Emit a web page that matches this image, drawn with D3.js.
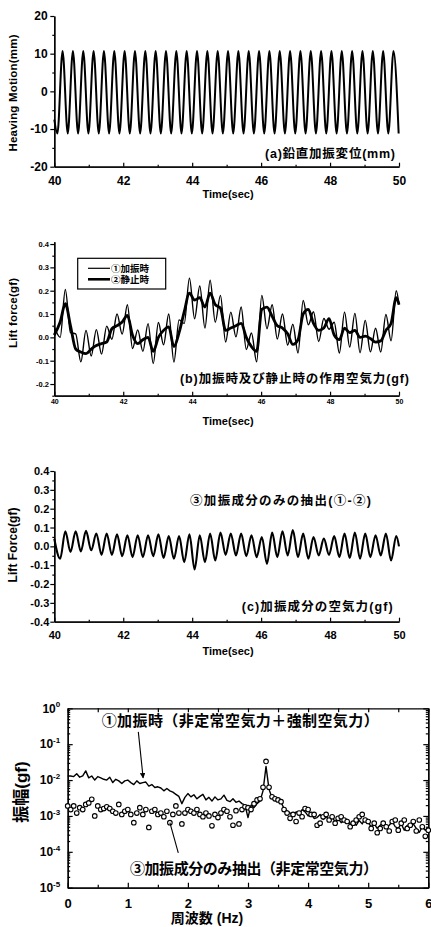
<!DOCTYPE html>
<html>
<head>
<meta charset="utf-8">
<script src="https://cdn.jsdelivr.net/npm/d3@7"></script>
<style>
  html, body { margin: 0; padding: 0; background: #fff; }
  svg { display: block; }
</style>
</head>
<body>
<svg id="fig" width="431" height="927"></svg>
<script>
// ── (a) heaving motion: half-cycle extremes
const tHeave = [
  40.00, 40.09, 40.24, 40.39, 40.54, 40.69, 40.84, 40.99, 41.14, 41.29,
  41.44, 41.59, 41.74, 41.89, 42.04, 42.19, 42.34, 42.49, 42.64, 42.79,
  42.94, 43.09, 43.24, 43.39, 43.54, 43.69, 43.84, 43.99, 44.14, 44.29,
  44.44, 44.59, 44.74, 44.89, 45.04, 45.19, 45.34, 45.49, 45.64, 45.79,
  45.94, 46.09, 46.24, 46.39, 46.54, 46.69, 46.84, 46.99, 47.14, 47.29,
  47.44, 47.59, 47.74, 47.89, 48.04, 48.19, 48.34, 48.49, 48.64, 48.79,
  48.94, 49.09, 49.24, 49.39, 49.54, 49.69, 49.84, 49.99
];
const heaveMm = [
  -7.5, -11.2, 10.7, -11.2, 10.7, -11.2, 10.7, -11.2, 10.7, -11.2,
  10.7, -11.2, 10.7, -11.2, 10.7, -11.2, 10.7, -11.2, 10.7, -11.2,
  10.7, -11.2, 10.7, -11.2, 10.7, -11.2, 10.7, -11.2, 10.7, -11.2,
  10.7, -11.2, 10.7, -11.2, 10.7, -11.2, 10.7, -11.2, 10.7, -11.2,
  10.7, -11.2, 10.7, -11.2, 10.7, -11.2, 10.7, -11.2, 10.7, -11.2,
  10.7, -11.2, 10.7, -11.2, 10.7, -11.2, 10.7, -11.2, 10.7, -11.2,
  10.7, -11.2, 10.7, -11.2, 10.7, -11.2, 10.7, -11.2
];

// ── (b)(c) lift force, read at the extremes of the forced component
const tLift = [
  40.00, 40.17, 40.32, 40.47, 40.62, 40.77, 40.92, 41.07, 41.22, 41.37,
  41.52, 41.67, 41.82, 41.97, 42.12, 42.27, 42.42, 42.57, 42.72, 42.87,
  43.02, 43.17, 43.32, 43.47, 43.62, 43.77, 43.92, 44.07, 44.22, 44.37,
  44.52, 44.67, 44.82, 44.97, 45.12, 45.27, 45.42, 45.57, 45.72, 45.87,
  46.02, 46.17, 46.32, 46.47, 46.62, 46.77, 46.92, 47.07, 47.22, 47.37,
  47.52, 47.67, 47.82, 47.97, 48.12, 48.27, 48.42, 48.57, 48.72, 48.87,
  49.02, 49.17, 49.32, 49.47, 49.62, 49.77, 49.92, 50.00
];
// ①加振時
const liftHeaving = [
  0.045, 0.0, 0.205, 0.02, 0.015, -0.105, 0.03, -0.08, 0.033, -0.072,
  0.048, -0.008, 0.1, 0.014, 0.14, -0.048, 0.032, -0.06, 0.059, -0.112,
  0.064, -0.032, 0.1, -0.106, 0.075, 0.06, 0.254, 0.08, 0.22, 0.04,
  0.245, 0.065, 0.18, -0.02, 0.108, 0.002, 0.13, -0.052, 0.019, -0.105,
  0.18, 0.037, 0.14, -0.007, 0.1, -0.033, 0.056, -0.067, 0.158, 0.054,
  0.11, -0.018, 0.081, 0.035, 0.065, -0.067, 0.108, -0.042, 0.103, -0.066,
  0.073, -0.062, 0.039, -0.063, 0.098, -0.015, 0.2, 0.14
];
// ②静止時
const liftStatic = [
  0.01, 0.066, 0.144, 0.05, -0.05, -0.063, -0.07, -0.05, -0.035, -0.027,
  -0.02, 0.037, 0.05, 0.066, 0.094, 0.009, -0.027, -0.01, 0.0, -0.06,
  0.0, 0.03, 0.045, -0.04, 0.02, 0.11, 0.19, 0.16, 0.17, 0.13,
  0.19, 0.14, 0.125, 0.03, 0.04, 0.05, 0.06, 0.0, -0.04, -0.06,
  0.12, 0.13, 0.09, 0.05, 0.04, 0.015, -0.03, -0.01, 0.1, 0.12,
  0.06, 0.03, 0.04, 0.08, 0.01, -0.01, 0.04, 0.02, 0.03, 0.0,
  0.005, -0.005, -0.02, -0.015, 0.03, 0.06, 0.17, 0.14
];
// ③加振成分 (①-②)
const liftForced = [
  0.04, -0.066, 0.08, -0.03, 0.08, -0.027, 0.082, -0.021, 0.068, -0.045,
  0.068, -0.045, 0.064, -0.052, 0.059, -0.057, 0.059, -0.057, 0.059, -0.052,
  0.064, -0.062, 0.055, -0.066, 0.055, -0.084, 0.064, -0.123, 0.059, -0.084,
  0.068, -0.075, 0.073, -0.045, 0.068, -0.048, 0.068, -0.052, 0.059, -0.057,
  0.05, -0.093, 0.073, -0.057, 0.08, -0.048, 0.086, -0.057, 0.068, -0.066,
  0.05, -0.048, 0.041, -0.045, 0.055, -0.057, 0.068, -0.062, 0.073, -0.066,
  0.068, -0.057, 0.059, -0.048, 0.068, -0.075, 0.055, 0.0
];

// ── (d) amplitude spectrum
const freqHz = [
  0, 0.05, 0.1, 0.15, 0.2, 0.25, 0.3, 0.35, 0.4, 0.45,
  0.5, 0.55, 0.6, 0.65, 0.7, 0.75, 0.8, 0.85, 0.9, 0.95,
  1.0, 1.05, 1.1, 1.15, 1.2, 1.25, 1.3, 1.35, 1.4, 1.45,
  1.5, 1.55, 1.6, 1.65, 1.7, 1.75, 1.8, 1.85, 1.9, 1.95,
  2.0, 2.05, 2.1, 2.15, 2.2, 2.25, 2.3, 2.35, 2.4, 2.45,
  2.5, 2.55, 2.6, 2.65, 2.7, 2.75, 2.8, 2.85, 2.9, 2.95,
  3.0, 3.05, 3.1, 3.15, 3.2, 3.25, 3.3, 3.35, 3.4, 3.45,
  3.5, 3.55, 3.6, 3.65, 3.7, 3.75, 3.8, 3.85, 3.9, 3.95,
  4.0, 4.05, 4.1, 4.15, 4.2, 4.25, 4.3, 4.35, 4.4, 4.45,
  4.5, 4.55, 4.6, 4.65, 4.7, 4.75, 4.8, 4.85, 4.9, 4.95,
  5.0, 5.05, 5.1, 5.15, 5.2, 5.25, 5.3, 5.35, 5.4, 5.45,
  5.5, 5.55, 5.6, 5.65, 5.7, 5.75, 5.8, 5.85, 5.9, 5.95,
  6.0
];
const ampHeaving = [
  1.3e-2, 1.3e-2, 1.25e-2, 1.5e-2, 1.2e-2, 1.3e-2, 1.8e-2, 1.15e-2, 1.3e-2, 1.0e-2,
  1.25e-2, 1.15e-2, 1.05e-2, 1.0e-2, 1.2e-2, 8.5e-3, 1.05e-2, 9.5e-3, 8.0e-3, 9.5e-3,
  1.0e-2, 8.5e-3, 7.5e-3, 9.5e-3, 8.0e-3, 8.5e-3, 8.8e-3, 6.8e-3, 7.5e-3, 6.2e-3,
  6.5e-3, 6.0e-3, 5.0e-3, 5.8e-3, 5.0e-3, 4.6e-3, 4.0e-3, 3.5e-3, 2.2e-3, 3.3e-3,
  4.2e-3, 3.4e-3, 3.9e-3, 3.0e-3, 3.5e-3, 4.0e-3, 2.8e-3, 3.3e-3, 2.6e-3, 3.4e-3,
  2.8e-3, 3.0e-3, 3.8e-3, 2.7e-3, 2.5e-3, 3.0e-3, 2.4e-3, 2.6e-3, 2.2e-3, 2.0e-3,
  9.0e-4, 2.0e-3, 1.7e-3, 2.2e-3, 2.6e-3, 5.0e-3, 2.4e-2, 5.5e-3, 3.2e-3, 2.8e-3,
  2.6e-3, 2.4e-3, 1.6e-3, 1.4e-3, 1.2e-3, 1.0e-3, 1.3e-3, 1.1e-3, 1.5e-3, 1.3e-3,
  1.0e-3, 1.2e-3, 8.5e-4, 9.0e-4, 1.1e-3, 8.0e-4, 9.5e-4, 8.0e-4, 9.0e-4, 7.0e-4,
  8.5e-4, 6.5e-4, 7.5e-4, 8.0e-4, 6.0e-4, 7.0e-4, 5.5e-4, 7.5e-4, 6.0e-4, 8.5e-4,
  6.5e-4, 5.0e-4, 6.0e-4, 4.5e-4, 5.5e-4, 6.5e-4, 4.5e-4, 5.5e-4, 7.0e-4, 5.0e-4,
  4.5e-4, 6.0e-4, 4.0e-4, 5.5e-4, 5.0e-4, 6.0e-4, 4.5e-4, 3.5e-4, 5.0e-4, 4.0e-4,
  4.5e-4
];
const ampForced = [
  1.9e-3, 1.5e-3, 1.9e-3, 1.2e-3, 1.7e-3, 1.5e-3, 2.1e-3, 2.3e-3, 2.9e-3, 1.0e-3,
  1.9e-3, 1.5e-3, 1.6e-3, 1.8e-3, 1.6e-3, 1.35e-3, 1.2e-3, 2.1e-3, 1.1e-3, 1.35e-3,
  1.5e-3, 1.1e-3, 6.5e-4, 1.2e-3, 1.7e-3, 1.1e-3, 1.5e-3, 4.8e-4, 1.35e-3, 1.5e-3,
  1.1e-3, 1.2e-3, 9.5e-4, 1.35e-3, 6.5e-4, 1.1e-3, 1.9e-3, 1.2e-3, 6.0e-4, 1.2e-3,
  1.5e-3, 1.35e-3, 1.2e-3, 1.5e-3, 1.1e-3, 9.5e-4, 1.2e-3, 1.0e-3, 5.3e-4, 1.1e-3,
  9.0e-4, 1.2e-3, 1.5e-3, 1.35e-3, 9.5e-4, 5.5e-4, 1.4e-3, 6.0e-4, 1.5e-3, 1.8e-3,
  1.7e-3, 1.5e-3, 2.2e-3, 2.8e-3, 3.0e-3, 6.3e-3, 3.3e-2, 6.3e-3, 3.4e-3, 3.0e-3,
  2.8e-3, 2.5e-3, 1.5e-3, 1.2e-3, 8.6e-4, 1.1e-3, 7.0e-4, 1.2e-3, 9.5e-4, 1.6e-3,
  1.5e-3, 1.1e-3, 1.1e-3, 5.5e-4, 6.3e-4, 9.5e-4, 1.1e-3, 7.7e-4, 9.5e-4, 6.3e-4,
  8.6e-4, 9.5e-4, 7.7e-4, 7.0e-4, 5.0e-4, 6.3e-4, 7.7e-4, 9.5e-4, 1.1e-3, 7.7e-4,
  7.0e-4, 4.5e-4, 6.3e-4, 3.4e-4, 4.5e-4, 6.3e-4, 5.0e-4, 3.8e-4, 7.0e-4, 7.7e-4,
  4.0e-4, 6.3e-4, 7.7e-4, 4.5e-4, 5.5e-4, 7.0e-4, 3.8e-4, 7.7e-4, 5.0e-4, 2.7e-4,
  4.0e-4
];

// ── tick labels
const timeTicks = [40, 42, 44, 46, 48, 50];
const timeMinor = [41, 43, 45, 47, 49];
const heaveTicks = [-20, -10, 0, 10, 20];
const heaveMinor = [-15, -5, 5, 15];
const liftTicksB = [-0.2, -0.1, 0, 0.1, 0.2, 0.3, 0.4];
const liftMinorB = [-0.25, -0.15, -0.05, 0.05, 0.15, 0.25, 0.35];
const liftTicksC = [-0.4, -0.3, -0.2, -0.1, 0, 0.1, 0.2, 0.3, 0.4];
const liftMinorC = [-0.35, -0.25, -0.15, -0.05, 0.05, 0.15, 0.25, 0.35];
const freqTicks = [0, 1, 2, 3, 4, 5, 6];
const freqMinor = [0.5, 1.5, 2.5, 3.5, 4.5, 5.5];
const ampDecades = [1, 1e-1, 1e-2, 1e-3, 1e-4, 1e-5];
const ampExp = ["0", "-1", "-2", "-3", "-4", "-5"];

const FONT = "'Liberation Sans', Arial, 'Noto Sans CJK JP', sans-serif";
const svg = d3.select("#fig");

function ink(ax, fs) {
  ax.attr("font-family", FONT).attr("font-size", fs).attr("font-weight", 700);
  ax.select(".domain").attr("stroke", "#000").attr("stroke-width", 1.3);
  ax.selectAll(".tick line").attr("stroke", "#000").attr("stroke-width", 1.2);
  ax.selectAll(".tick text").attr("fill", "#000");
  return ax;
}

function label(g, txt, x, y, o = {}) {
  const t = g.append("text")
    .attr("x", x).attr("y", y)
    .attr("font-family", FONT).attr("font-weight", 700)
    .attr("font-size", o.fs || 11)
    .attr("text-anchor", o.anchor || "middle")
    .attr("dominant-baseline", o.base || "auto")
    .attr("fill", "#000")
    .text(txt);
  if (o.len) t.attr("textLength", o.len).attr("lengthAdjust", "spacing");
  if (o.rot) t.attr("transform", `rotate(-90,${x},${y})`);
  return t;
}

// ════════════════════════════════
// time history panels (a)(b)(c)
// ════════════════════════════════
const xT = d3.scaleLinear().domain([40, 50]).range([54.3, 399]);

function timeFrame(o) {
  const g = svg.append("g");
  const y = d3.scaleLinear().domain(o.yDom).range(o.yRange);
  const base = o.yRange[0], left = xT.range()[0];
  ink(g.append("g").attr("transform", `translate(0,${base})`)
    .call(d3.axisBottom(xT).tickValues(timeMinor).tickSize(-2).tickSizeOuter(0).tickFormat("")), o.xFs);
  ink(g.append("g").attr("transform", `translate(0,${base})`)
    .call(d3.axisBottom(xT).tickValues(timeTicks).tickSize(-4).tickSizeOuter(0)
      .tickPadding(o.xPad).tickFormat(d => String(d))), o.xFs);
  ink(g.append("g").attr("transform", `translate(${left},0)`)
    .call(d3.axisLeft(y).tickValues(o.yMinor).tickSize(2).tickSizeOuter(0).tickFormat("")), o.yFs);
  ink(g.append("g").attr("transform", `translate(${left},0)`)
    .call(d3.axisLeft(y).tickValues(o.yTicks).tickSize(4).tickSizeOuter(0)
      .tickPadding(o.yPad).tickFormat(o.yFmt)), o.yFs);
  label(g, "Time(sec)", 228, o.titleY, { fs: 11 });
  label(g, o.yTitle, 13, o.yTitleY, { fs: o.yTitleFs, rot: true, base: "central", len: o.yTitleLen });
  return { g, y };
}

function trace(g, y, ts, vs, width) {
  g.append("path")
    .datum(ts.map((t, i) => [t, vs[i]]))
    .attr("fill", "none").attr("stroke", "#000")
    .attr("stroke-width", width).attr("stroke-linejoin", "round")
    .attr("d", d3.line().x(d => xT(d[0])).y(d => y(d[1])).curve(d3.curveMonotoneX));
}

// ── (a)
const A = timeFrame({
  yDom: [-20, 20], yRange: [166.7, 16],
  yTicks: heaveTicks, yMinor: heaveMinor, yFmt: d => String(d),
  yFs: 12, yPad: 2.6, xFs: 12, xPad: 9.8,
  titleY: 198, yTitle: "Heaving Motion(mm)", yTitleY: 93, yTitleFs: 11.5, yTitleLen: 117
});
trace(A.g, A.y, tHeave, heaveMm, 2);
label(A.g, "(a)鉛直加振変位(mm)", 395, 154, { fs: 12.5, anchor: "end", base: "central", len: 130 });

// ── (b)
const B = timeFrame({
  yDom: [-0.25, 0.41], yRange: [395.7, 241.7],
  yTicks: liftTicksB, yMinor: liftMinorB, yFmt: d => d.toFixed(1),
  yFs: 7.5, yPad: 1.3, xFs: 7, xPad: 3.3,
  titleY: 425, yTitle: "Lift force(gf)", yTitleY: 313, yTitleFs: 11.5, yTitleLen: 70
});
trace(B.g, B.y, tLift, liftStatic, 2.8);
trace(B.g, B.y, tLift, liftHeaving, 1.4);
label(B.g, "(b)加振時及び静止時の作用空気力(gf)", 409, 379, { fs: 12.5, anchor: "end", base: "central", len: 229 });

// legend
const leg = B.g.append("g");
leg.append("rect").attr("x", 77.7).attr("y", 258.3).attr("width", 88).attr("height", 30.7)
  .attr("fill", "#fff").attr("stroke", "#000").attr("stroke-width", 1.2);
[{ name: "①加振時", w: 1.2, y: 268.3 }, { name: "②静止時", w: 2.6, y: 279.3 }].forEach(d => {
  leg.append("line").attr("x1", 88).attr("x2", 110).attr("y1", d.y).attr("y2", d.y)
    .attr("stroke", "#000").attr("stroke-width", d.w);
  label(leg, d.name, 111, d.y, { fs: 9.5, anchor: "start", base: "central" });
});

// ── (c)
const Cp = timeFrame({
  yDom: [-0.4, 0.4], yRange: [621.7, 471],
  yTicks: liftTicksC, yMinor: liftMinorC, yFmt: d => d.toFixed(1),
  yFs: 11, yPad: 1, xFs: 11, xPad: 9.5,
  titleY: 655, yTitle: "Lift Force(gf)", yTitleY: 545, yTitleFs: 12, yTitleLen: 75
});
trace(Cp.g, Cp.y, tLift, liftForced, 2.1);
label(Cp.g, "③加振成分のみの抽出(①-②)", 190, 500.7, { fs: 12.5, anchor: "start", base: "central", len: 181 });
label(Cp.g, "(c)加振成分の空気力(gf)", 392.7, 607.3, { fs: 12.5, anchor: "end", base: "central", len: 151 });

// ════════════════════════════════
// (d) spectrum
// ════════════════════════════════
const xF = d3.scaleLinear().domain([0, 6]).range([67.7, 428.3]);
const yF = d3.scaleLog().domain([1e-5, 1]).range([887.7, 708.3]);
const D = svg.append("g");
const logMinor = yF.ticks().filter(v => !ampDecades.some(d => Math.abs(v / d - 1) < 1e-6));

const [fx0, fx1] = xF.range(), [fy0, fy1] = yF.range();
ink(D.append("g").attr("transform", `translate(0,${fy0})`)
  .call(d3.axisBottom(xF).tickValues(freqMinor).tickSize(-3).tickSizeOuter(0).tickFormat("")), 13);
ink(D.append("g").attr("transform", `translate(0,${fy0})`)
  .call(d3.axisBottom(xF).tickValues(freqTicks).tickSize(-5).tickSizeOuter(0).tickPadding(11)
    .tickFormat(d => String(d))), 13);
ink(D.append("g").attr("transform", `translate(0,${fy1})`)
  .call(d3.axisTop(xF).tickValues(freqMinor.concat(freqTicks)).tickSize(-4).tickSizeOuter(0).tickFormat("")), 13);
[[d3.axisLeft, fx0], [d3.axisRight, fx1]].forEach(([ax, px]) => {
  ink(D.append("g").attr("transform", `translate(${px},0)`)
    .call(ax(yF).tickValues(logMinor).tickSize(-2.5).tickSizeOuter(0).tickFormat("")), 12);
  ink(D.append("g").attr("transform", `translate(${px},0)`)
    .call(ax(yF).tickValues(ampDecades).tickSize(-5).tickSizeOuter(0).tickFormat("")), 12);
});

// decade labels 10^n
ampDecades.forEach((v, i) => {
  const t = D.append("text")
    .attr("x", fx0 - 7.5).attr("y", yF(v) + 4.3)
    .attr("text-anchor", "end")
    .attr("font-family", FONT).attr("font-weight", 700).attr("font-size", 12)
    .attr("fill", "#000");
  t.append("tspan").text("10");
  t.append("tspan").attr("font-size", 8).attr("dy", -5.5).text(ampExp[i]);
});

D.append("path")
  .datum(freqHz.map((f, i) => [f, ampHeaving[i]]))
  .attr("fill", "none").attr("stroke", "#000").attr("stroke-width", 1.4)
  .attr("stroke-linejoin", "round")
  .attr("d", d3.line().x(d => xF(d[0])).y(d => yF(d[1])));

D.append("g").selectAll("circle")
  .data(freqHz.map((f, i) => [f, ampForced[i]]))
  .join("circle")
  .attr("cx", d => xF(d[0])).attr("cy", d => yF(d[1])).attr("r", 2.3)
  .attr("fill", "#fff").attr("stroke", "#000").attr("stroke-width", 1.1);

// pointers
svg.append("defs").append("marker")
  .attr("id", "tip").attr("viewBox", "0 0 8 8").attr("refX", 7).attr("refY", 4)
  .attr("markerWidth", 5).attr("markerHeight", 5).attr("orient", "auto")
  .append("path").attr("d", "M0,0L8,4L0,8Z").attr("fill", "#000");
const pointers = [
  { from: [1.175, 0.22], to: [1.255, 1.15e-2], head: true },
  { from: [1.84, 9.3e-5], to: [1.70, 6.5e-4], head: false }
];
pointers.forEach(p => {
  D.append("line")
    .attr("x1", xF(p.from[0])).attr("y1", yF(p.from[1]))
    .attr("x2", xF(p.to[0])).attr("y2", yF(p.to[1]))
    .attr("stroke", "#000").attr("stroke-width", 1.1)
    .attr("marker-end", p.head ? "url(#tip)" : null);
});

label(D, "①加振時（非定常空気力＋強制空気力）", 101.7, 720, { fs: 15, anchor: "start", base: "central", len: 277 });
label(D, "③加振成分のみ抽出（非定常空気力）", 130, 868.3, { fs: 15, anchor: "start", base: "central", len: 248 });
label(D, "振幅(gf)", 21, 792, { fs: 17, rot: true, base: "central" });
label(D, "周波数 (Hz)", 207, 922.5, { fs: 14 });
</script>
</body>
</html>
